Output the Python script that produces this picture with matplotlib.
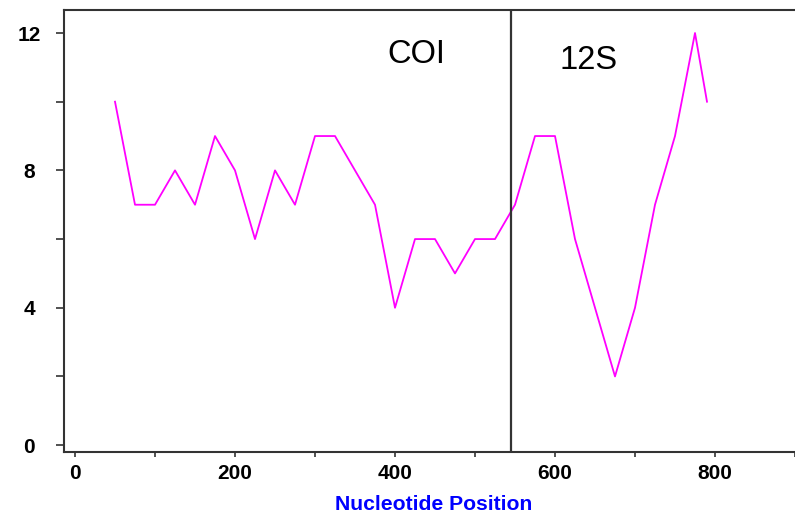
import matplotlib
matplotlib.use("Agg")
import matplotlib.pyplot as plt
from matplotlib.ticker import MultipleLocator

positions = [50, 75, 100, 125, 150, 175, 200, 225, 250, 275, 300, 325, 350, 375,
             400, 425, 450, 475, 500, 525, 550, 575, 600, 625, 650, 675, 700,
             725, 750, 775, 790]
values = [10, 7, 7, 8, 7, 9, 8, 6, 8, 7, 9, 9, 8, 7,
          4, 6, 6, 5, 6, 6, 7, 9, 9, 6, 4, 2, 4,
          7, 9, 12, 10]
boundary = 545
region_labels = ["COI", "12S"]
region_label_pos = [(390, 11.13), (606, 10.95)]
x_label = "Nucleotide Position"

W, H = 795, 518
fig = plt.figure(figsize=(W / 100, H / 100), dpi=100)
ax = fig.add_axes([64 / W, (H - 452) / H, (W - 64) / W, (452 - 10) / H])

ax.plot(positions, values, color="#ff00ff", lw=1.3)
ax.axvline(boundary, color="#333333", lw=1.6)

for lab, (x, y) in zip(region_labels, region_label_pos):
    ax.text(x, y, lab, fontsize=23.5, family="Liberation Sans", ha="left",
            va="baseline", color="black")

ax.set_xlim(-13.75, 900)
ax.set_ylim(-0.2, 12.67)

ax.set_xticks([0, 100, 200, 300, 400, 500, 600, 700, 800, 900])
ax.set_xticklabels(["0", "", "200", "", "400", "", "600", "", "800", ""])
ax.set_yticks([0, 2, 4, 6, 8, 10, 12])
ax.set_yticklabels(["0", "", "4", "", "8", "", "12"])

for lbl in ax.get_xticklabels() + ax.get_yticklabels():
    lbl.set_family("Liberation Sans")
    lbl.set_fontweight("bold")
    lbl.set_fontsize(15)
for lbl in ax.get_yticklabels():
    lbl.set_horizontalalignment("center")

ax.tick_params(axis="y", length=6, width=1.2, color="#333333", pad=19)
ax.tick_params(axis="x", length=3.5, width=1.2, color="#333333", pad=5)

for s in ["left", "bottom", "top"]:
    ax.spines[s].set_color("#333333")
    ax.spines[s].set_linewidth(1.5)
ax.spines["right"].set_visible(False)

fig.text(433.5 / W, 1 - 504.5 / H, x_label, ha="center", va="center",
         fontsize=15.2, fontweight="bold", family="Liberation Sans", color="#0000ff")

fig.savefig("out.png", dpi=100)
